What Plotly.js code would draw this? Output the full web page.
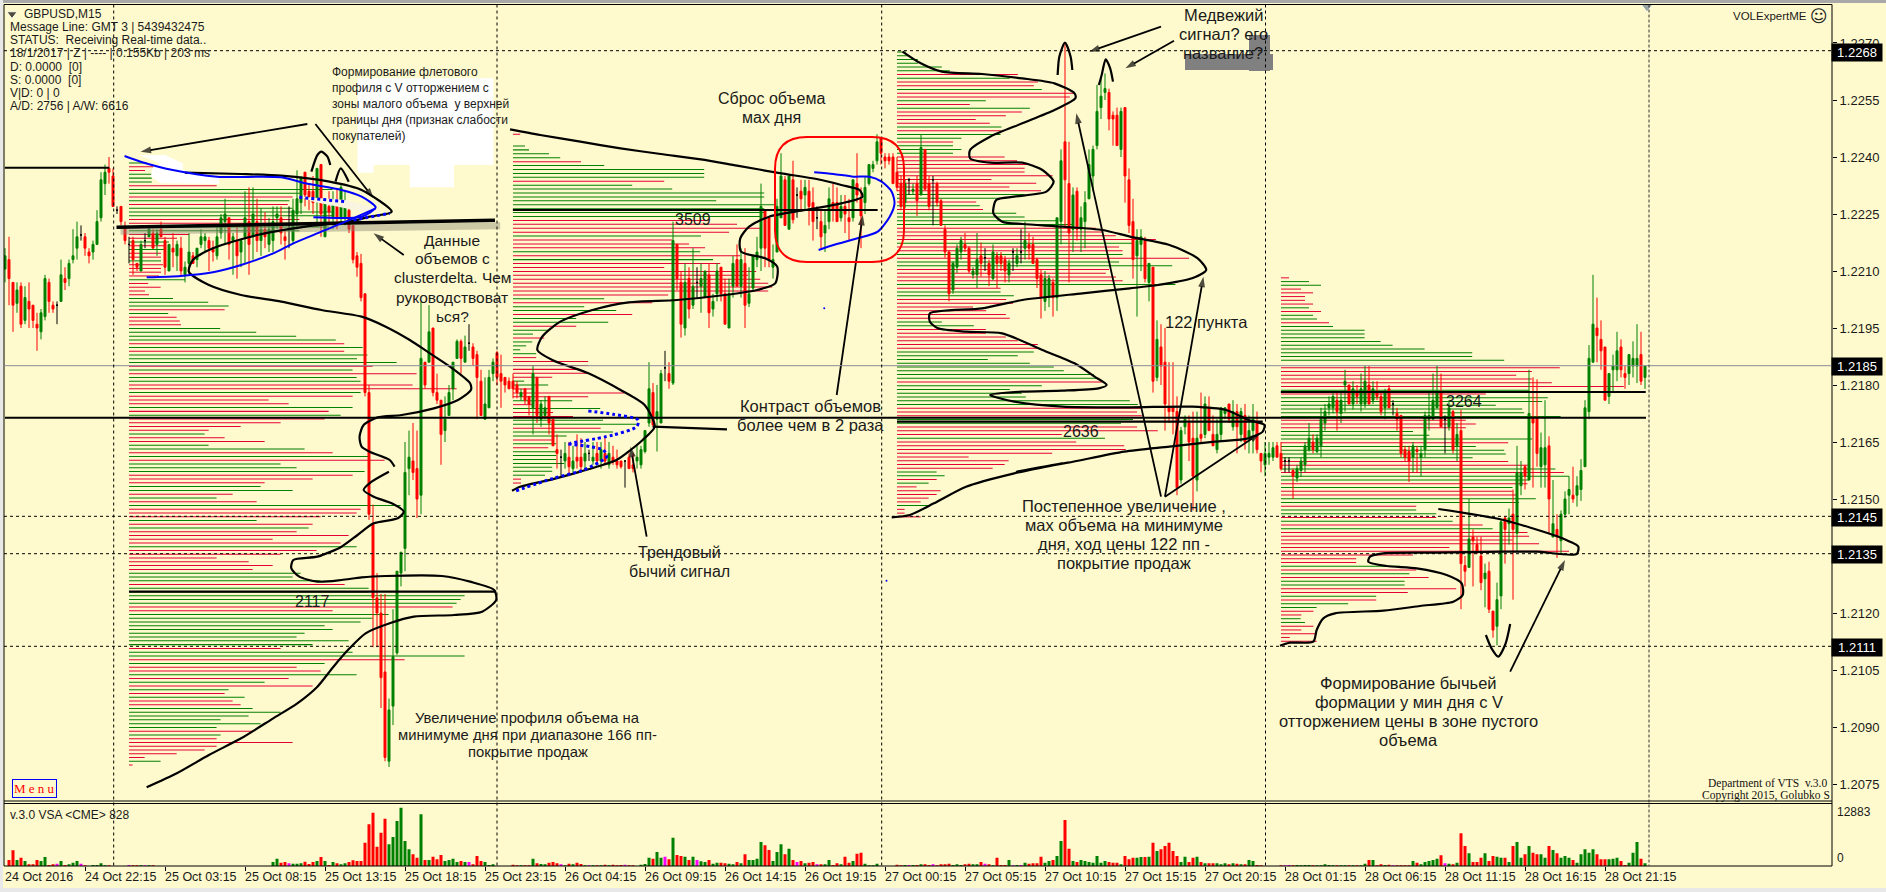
<!DOCTYPE html>
<html><head><meta charset="utf-8"><script src="https://cdn.plot.ly/plotly-3.0.0.min.js"></script>
<style>html,body{margin:0;padding:0;background:#fffacd}#c{width:1886px;height:892px}</style></head><body><div id="c"></div>
<script>
// Prices are quoted as pips above 1.2000; every candle row is [open, high, low, close]
const candles24Oct=[[210.5,216,207,214],[213,219,201,208],[207,207,194,201],[201.5,207,199,205],[206,207,195,196],[197,206,196,203],[202,207,195,200],[201,201,195,197],[196,199,189,195],[194,200,192,199],[198,209,197,208],[207,208,199,202],[201,202,199,200],[201,202,196,201],[202,213,202,209],[208,211,205,207],[208,213,206,212],[213,221,212,214],[216,223,213,219],[219.5,222,218,219.5],[219,220,214,216],[215,216,212,214],[215,218,213,217],[217,226,217,223],[224,236,223,234],[233,238,230,236],[237,240,233,236],[235,237,227,227]];
const candles25Oct=[[226,227,225,226],[227,227,222,223],[221.5,223,217,218],[217,219,212,217],[218,219,209,213],[212,212,210,211],[210,218,210,217],[218,220,216,218],[219,222,219,221],[220,221,216,216],[217,221,214,220],[221,223,219,219],[218,219,209,211],[210,217,210,217],[216,220,211,215],[214,218,210,217],[216,219,208.5,210],[209,212.5,207,211],[212,220,209,215],[214,215,212,212],[213,216,211,216],[217,221,216,219],[218,220,215,219],[218,219,210,216],[216,218,212.5,215],[214,222,213,219],[220,225,218.5,224],[223,229,217,225],[224,224,213,217],[218,220,209,219],[218,222,208,214],[215,218.5,211,218],[219,231,212,224],[223,232,209,217],[219,232,213,225],[223,229,215,218],[218,226.5,214,221],[221,225.5,216,219],[217,224,215,221],[218,227,215,223],[224,227,221,225],[224,227,217,220],[219,221,213,218],[222,227,216,222],[218,229,217,226],[225,236.5,221,229],[228,235,225,234.5],[236,236,227,230],[231,233,226,229.5],[231,235,225,228],[229,237,222,237],[238,238,219,225],[219,228,219,228],[227,231,222.5,225.5],[224,231,221,228],[228,231.5,221,224],[224,233,222,232],[224,231,222,228],[226,228,220,221],[222,222,212,213],[214,215,208.5,211],[212,214.5,202,203],
[204,204,177,178],[178,180,144.5,146],[143.5,148.5,111,124],[124,130.5,111,120],[120,125,95,103],[104.5,125,81,82],[81,97.5,79.5,94.5],[95.5,121,90.5,108.5],[109.5,131,109,131],[130.5,136,127,136],[137,165,131,157],[158,168,151,161],[160,170,155,157],[158,168,145,150],[151,202,146,187],[186,186,179,180],[186,201,186,194],[195,195,177,178],[178,183,175,176],[176,176,159,167],[168,177,165,171],[172,180,172,178],[179,186,176,186],[187,192,187,191.5],[191.5,192,183,187],[186,193,186,190],[191,196,189,191],[190,191,185,187],[188,189,171,182],[181,184,172,172],[171,182,171,175],[174,184,174,182],[183,187,181,186]];
const candles26Oct=[[188.5,189,180,182],[183,188,174,181],[182,182,178,180],[181,182,179,179],[181,183,176.5,179],[180,181,176.5,178],[177,179,176,178],[179,179,175,176],[177,177,172,175],[174,185,167,183],[182,182,170,172],[171,176,169,175],[172,177,171,174],[177,177,167,170],[171,171,164,164],[163,167,158,162],[161,163,156,161],[160,165,158,162],[161,165,156,158.5],[158,164,157,160],[161,167,158,160],[161,166,157,158.5],[160,165,158,162],[162,163,160,162],[160,165,159,161],[162,165,159,160],[160,165,158,163],[162,166,159,160],[159,165,158,162],[161,164,159,160],[160,163,158,159],[160,160,158,158.5],[160,160,153,160],[161,162,158,158],[159,162,157,158],[160,164,158,161],[159,164,158,163],[162.5,168,162,168],[170,186,169,179],[178,180.5,169,169.5],[171,180,162.5,173],[170,184,170,183],[184.5,189,181,184.5],[183,186,179,181],[180.5,223,180,218],[217,217,205,208],[207,210,192.5,196],[195,212,193,207],[208,211,197.5,200],[201,216,200,206],[207,211,203,207],[206,212,199,208],[203,210,203,210],[209,212,195,199],[200,204,198,202],[204,212,202,210],[211,211,202,204],[204,208,196,196],[195,208,195,204],[206,214,203,212],[213,217,206,206],[206,216,203,213],[212,216,195,201],[201.5,211,200.5,204],[205.5,214,205,214],[213,219,211,215],[216,233,210,227],[226,226,211,216],[224,224,211,213],[211,217,208,213],[215,229,215,227],[224,241,224,235],[234,235,222,222],[221,235,221,235],[234,239,222.5,223.5],[230,232,224,230],[231,234,226,229],[230,234,226,232],[231,234,222,227],[228,232,218,223],[224,227,221,224],[223,226,216,219],[220,226,215,222],[223,232,221,229],[228,233,223,226],[228,232,223,223],[224,230,223,227],[227,230,220,225],[224,229,218,223],[224,234,223,234],[233,241,228,230],[229,232,216,224.5],[228,235,225,232],[233,238,232.5,238],[237,239,236,238],[239,246,238,244],[245,245,238,241]];
const candles27Oct=[[240,241,237,239],[240,241,238,239],[240,241,233,233],[236,240,231,232],[233,235,226,227],[228,234,226.5,233],[234,234.5,230,234],[231,233,230,231.5],[233,235,224.5,228.5],[230,246,230,242.5],[242,242,231.5,231.5],[233,235,226,227],[234,235,222,234],[233,233.5,227,228],[228.5,229,222,222],[221,222,213.5,215],[215,215.5,202,204],[205,212.5,204,212],[211,217,209.5,216],[215,219,213,218],[217,220,215,216],[216,216.5,209.5,210],[209,211,208,210],[209,220,205.5,213],[214,217.5,208.5,212],[213.5,216,210,213.5],[212,213,206,209],[208,217,207.5,215],[214,215,205.5,212],[214,215,210,212],[213,214,207,210],[209,213,207,212],[215,216,210,215],[212,216,211,214],[215,221,212,215],[216,223,213,218],[217,220,213,216],[217,219,212,212],[213,213.5,205.5,208],[209,210.5,197.5,203],[202,210,199.5,208],[203,209,200.5,208],[207,208,198,203],[203,224,199.5,224],[223,242,217,239],[244,270,221.5,234],[233,244,207,220],[221,232,215,230],[231,232,218,221],[221,227,215,224],[223,231,216,228],[229,242,229,238],[235,243,231,242],[243,259,242,252],[253,261,250,256],[257,262,255,258],[257,258,247,250],[251,252,243,250],[251,253,243,243],[242,253,240,252],[253,253,228,235],[234,237,220,222],[223,229,208,213],[214,221,198,218],[217,221,210,219],[218,219,207,208],[207,212,202,212],[211,211,178,181],[182,197,181,192],[190,196,180,185],[186,195,168,175],[174,186,170,173],[174,186,167,173],[173,177,151,153],[155,169,154,168],[169,172,167,171],[170,172,160,165],[166,173,147,156],[155,173,152,166],[167,178,165,166],[167,177,166,175],[174,177,168,168],[167,172,164,164],[163,171,162,167],[167,174,165,174],[172.5,174,171,174],[175,175,170,171],[169,176,168,173],[173,175,162,169],[167,174,165,173],[172,175,163,165],[166,172,162,168],[168,175,162,171],[170,173,162,163],[162,162,157,160],[159,165,156,162],[161,165,159,162]];
const candles28Oct=[[161,165,160,163.5],[164,165,161,161],[162,165,157.5,158],[160,161,157,160],[160,161,157,160],[157.5,158,150,156],[155.5,159,154.5,158],[157.5,161,155.8,160],[159,165,157,164],[163,170,162.5,166],[165,167,162,163],[162.5,167,162,166],[164,174,161,171],[170,175,168,173],[174,177,172,175],[174,178,172.5,177],[176,178,168,173],[172.5,178,170,176],[180,184,173,181],[180,180,175,175],[175,181,173.5,179],[178,180,175,177],[175,183,173,179],[175,185,174,181],[180,185,175,175],[176,181,175,179],[178,181,176,177],[177,178,172,173],[174,179,171,178],[179,180,174,174],[175,176,172,175],[172.5,174,168,171],[172,172,161,162],[163,164,160,161],[162.5,164,154.5,160],[161,165,157,164],[163,164,157,162.5],[161,164,156,162],[163,173,161,172],[171,178,168,172],[171,183,171,176],[174,185,174,178],[178,183,169,169],[171,172,162,171],[169,176,168,174],[173,173.5,162,163],[164,170,160,167],[168,173.5,121,133],[132.5,135,127,131],[132,150,132,139.5],[140,142,127,139],[138,140,135.5,136],[135,140,126,128],[129,133,121.5,130.5],[131,133.5,120,121],[120.5,120.5,113.5,115.5],[116.5,128,111.5,123.5],[124.5,144.5,121,144],[145,145.5,133,142],[143.5,147.5,138,145],[146,152.5,123.5,142],[141,164,136,157],[153.5,160,151,157],[158.5,159,152.5,156],[155,184,155,172.5],[171.5,182,153,170],[171.5,181.5,158.5,162],[158.5,167.5,153,163.5],[159,176,153,163.5],[164,166.5,141,150],[140,155,140,143.5],[142,146,134.5,140],[139,147,135.5,146],[146,152,145,150],[151,156,146,152.5],[151,158.5,149,150],[151,156,148,153.5],[152.5,160.5,149.5,157.5],[158.5,176,158.5,174],[173,190.5,171,187],[186,209,186,196],[195,203,186,193],[192,197,184,189],[190,190,176,176],[177,183,175,183],[184,188,178,185],[184,194,181,189],[190,192,182,184],[183,185,179,182],[183,188,180,188],[185,191.5,182,187],[185,196,180.5,187],[188,194,180,181],[182,185,179,185]];

// Tick volume, in units of 72 ticks, bar by bar
const volumesA=[0,18,47,18,25,15,5,5,18,15,27,3,5,7,15,3,5,10,15,7,2,0,3,3,8,2,2,0,0,0,0,3,2,2,2,2,2,2];
const volumesB=[0,0,0,0,0,0,0,0,0,0,0,0,0,0,0,0,0,0,0,0,0,0,0,0,0,0,0,0,0,12,22,10,12,8,7,7,8,13,6,12,15,27,15,3,12,8,5,8,12,17,15,15,70,125,160,58,100,142,65,87,135,175,75,50,35,25,155,18,18,28,20,33,15,18,22,12,15,12,12,5,30,15,12,3,5,0,0,0,0];
const volumesC=[4,2,2,2,2,22,8,6,5,10,12,8,5,2,7,5,10,6,2,2,2,2,2,4,2,4,2,3,4,2,2,0,4,6,25,22,42,25,28,20,85,33,30,28,18,28,18,14,12,18,7,10,10,8,7,5,12,8,35,18,18,22,72,62,48,15,42,65,35,52,18,12,15,8,10,12,5,5,5,18,3,8,5,28,10,15,37,40,7,2,2,7,0,0,0,0];
const volumesD=[4,2,3,3,3,3,5,5,3,5,2,5,5,7,3,5,3,5,7,5,5,12,7,5,2,25,3,3,18,2,3,3,10,7,8,8,28,10,15,18,30,75,138,52,15,12,18,15,12,10,30,10,15,12,10,10,5,30,20,25,25,27,27,28,70,45,50,60,70,45,30,12,28,12,25,28,12,8,8,8,8,5,8,5,8,7,5,5,18,15,3,2,0,0,0,0];
const volumesE=[2,2,3,2,3,2,3,3,2,2,2,5,3,2,2,2,2,2,2,2,2,7,18,18,2,5,3,4,2,2,2,2,2,15,10,5,12,15,18,22,32,8,7,5,10,98,60,38,12,12,25,38,15,30,28,25,25,12,60,72,25,35,60,40,35,35,25,60,48,38,25,30,25,18,10,35,50,40,50,35,20,20,20,22,25,15,3,10,40,72,22,8];

// Volume profiles per session, one level per pip from top to bottom: + buy-side (green), - sell-side (red)
const profileDay1=[44,-60,-40,60,57,57,-219,509,430,-409,401,-397,409,509,509,-426,-438,500,426,-150,-120,100,-90,90,-80,-80,80,-85,-80,-80,-75,140,-48,-79,-40,-50,110,198,249,-239,98,-119,-127,-130,228,318,418,517,-538,584,-538,596,570,669,-609,559,-719,569,579,-709,-819,579,-559,-349,-399,559,-499,529,-489,-379,-279,-199,189,-239,-339,199,439,-509,599,-639,379,419,589,-559,-459,-339,329,409,-259,219,-319,679,-579,-569,-479,319,-459,449,-419,-549,-359,-529,569,-469,-379,-219,-299,-359,-309,429,409,479,-539,599,599,839,829,819,-809,-509,649,609,579,489,509,439,419,549,459,-379,559,839,-689,489,-419,-479,569,-399,339,-459,249,-239,289,-259,-279,309,379,299,229,329,219,-309,229,-219,-409,-219,-189,-119,-39,79,-9];
const profileDay2=[-18,0,0,30,40,90,118,-170,228,478,478,478,-378,298,398,628,628,508,658,628,628,618,-488,-560,-618,-540,470,-398,-440,-480,468,-568,500,-518,-378,-608,-588,-618,-638,-648,-638,-388,228,-348,178,258,-298,158,238,-158,88,50,-78,48,33,18,58,-58,-188,-188,-168,-188,-98,28,88,-48,-278,-188,148,-48,218,-100,-150,225,308,-219,250,134,-98,108,-88,108,108,108,128,98,98,80,-20,-20];
const profileDay3=[22,32,52,52,112,132,-302,282,-352,-342,362,-442,-432,222,-182,332,-312,-272,-197,-232,261,-259,259,161,-140,140,161,140,-269,-300,-328,-319,-319,-389,-236,-348,-281,-360,319,273,-198,207,-215,298,319,398,439,-497,-514,-547,-647,588,-555,-564,564,-730,555,688,-530,-522,-547,-564,696,-259,259,292,-273,-290,-190,-223,-272,-282,112,192,-222,-222,-272,-302,-352,-352,342,302,227,332,392,417,492,502,-512,362,282,312,322,582,602,-610,-600,-612,590,560,-600,-652,-412,520,-448,-568,-572,-388,-179,-279,-269,-239,99,119,-99,79,-49,-109,-99,-79,-59,82,-19,-19,-59];
const profileDay4=[-20,70,100,-50,-80,-60,-60,-80,70,-100,80,90,-120,130,209,209,209,249,279,359,478,478,558,0,-697,-627,-588,-627,-677,-857,620,-512,667,653,537,603,608,699,-462,-487,-462,330,371,628,-568,487,558,562,479,-568,-620,686,-707,720,620,-616,579,-579,-591,637,595,-338,338,388,-388,429,-504,529,-616,-620,-579,-645,-421,-720,-330,-188,-188,298,-338,321,-369,309,309,-438,-317,238,-238,168,89,-81,-51,49,60,-81,-51,-89,-22,-89,-9];
const profileTops=[238.4,246,267.6,208.2];
const profileBottoms=[80,154.2,145.3,111.6];
const profileStarts=[31,127,223,319];

const priceTicks=[1.2270,1.2255,1.2240,1.2225,1.2210,1.2195,1.2180,1.2165,1.2150,1.2135,1.2120,1.2105,1.2090,1.2075];
const timeTickIndex=[20,40,60,80,100,120,140,160,180,200,220,240,260,280,300,320,340,360,380,400];
const timeTickLabels=["24 Oct 22:15","25 Oct 03:15","25 Oct 08:15","25 Oct 13:15","25 Oct 18:15","25 Oct 23:15","26 Oct 04:15","26 Oct 09:15","26 Oct 14:15","26 Oct 19:15","27 Oct 00:15","27 Oct 05:15","27 Oct 10:15","27 Oct 15:15","27 Oct 20:15","28 Oct 01:15","28 Oct 06:15","28 Oct 11:15","28 Oct 16:15","28 Oct 21:15"];

const candles=[].concat(candles24Oct,candles25Oct,candles26Oct,candles27Oct,candles28Oct);
const volumes=[].concat(volumesA,volumesB,volumesC,volumesD,volumesE);
const P=v=>1.2+v/10000;
const W=1886,H=892;
const RED='#ff0000',GREEN='#008000',CREAM='#fffacd';

// ---- candlesticks
const move=[],doji=[];
candles.forEach((r,i)=>{(r[0]===r[3]?doji:move).push({i,r});});
const cs=(arr,up,dn)=>({type:'candlestick',xaxis:'x',yaxis:'y',x:arr.map(d=>d.i),open:arr.map(d=>P(d.r[0])),high:arr.map(d=>P(d.r[1])),low:arr.map(d=>P(d.r[2])),close:arr.map(d=>P(d.r[3])),
  increasing:{line:{color:up,width:1},fillcolor:up},decreasing:{line:{color:dn,width:1},fillcolor:dn},whiskerwidth:0,width:0.5,hoverinfo:'skip',showlegend:false});

// ---- profiles
const profX=[],profY=[],profB=[],profC=[];
[profileDay1,profileDay2,profileDay3,profileDay4].forEach((p,d)=>{
  const step=(profileTops[d]-profileBottoms[d])/(p.length-1);
  p.forEach((v,k)=>{if(!v)return;profX.push(Math.abs(v)/10);profY.push(P(profileTops[d]-k*step));profB.push(profileStarts[d]);profC.push(v>0?'rgba(0,128,0,0.995)':'rgba(230,0,51,0.995)');});
});
const profile={type:'bar',orientation:'h',xaxis:'x',yaxis:'y',x:profX,y:profY,base:profB,width:0.0000264,marker:{color:profC,line:{width:0}},hoverinfo:'skip',showlegend:false};

// ---- volume
const volColor=volumes.map((v,i)=>{const r=candles[i]||[0,0,0,0];return r[0]===r[3]?'#ff00ff':(r[3]>r[0]?GREEN:RED);});
const volume={type:'bar',xaxis:'x2',yaxis:'y2',x:volumes.map((v,i)=>i),y:volumes.map(v=>v*72),width:0.75,marker:{color:volColor,line:{width:0}},hoverinfo:'skip',showlegend:false};

// ---- hand drawings on the screenshot
const Z={a:[0,0,2.489],b:[0,440,2.489],c:[500,0,2.489],d:[500,440,2.489],e:[1000,0,1.77],f:[1000,440,1.77],h:[350,220,3],k:[1060,30,3],m:[1270,270,3]};
const tr=(z,pts)=>pts.map(p=>[Z[z][0]+p[0]/Z[z][2],Z[z][1]+p[1]/3]);
const ov=(pts,o)=>Object.assign({type:'scatter',xaxis:'x3',yaxis:'y3',x:pts.map(p=>p[0]),y:pts.map(p=>p[1]),mode:'lines',hoverinfo:'skip',showlegend:false},o);
const curve=(pts,c,w,dash)=>ov(pts,{line:{color:c||'#000',width:w||2.2,shape:'spline',smoothing:0.7,dash:dash||'solid'}});
const poly=(pts,c)=>ov(pts.concat([pts[0]]),{fill:'toself',fillcolor:c,line:{width:0,color:c}});
const straight=(pts,c,w,dash)=>ov(pts,{line:{color:c||'#000',width:w||2,dash:dash||'solid'}});
const arrow=(pts,w)=>ov(pts,{mode:'lines+markers',line:{color:'#000',width:w||1.6},marker:{color:'#000',size:[3,11],symbol:['circle','arrow'],angleref:'previous',line:{width:0}}});

const blotches=[
 poly(tr('a',[[890,235],[1228,235],[1228,495],[1130,495],[1130,562],[1020,562],[1020,495],[930,495],[930,518],[890,518]]),'#ffffff'),
 poly(tr('a',[[345,465],[410,465],[455,490],[455,510],[545,530],[545,552],[400,550],[375,530],[380,505],[400,490]]),'#ffffff'),
 poly(tr('a',[[750,590],[860,600],[935,625],[920,640],[860,625],[780,605]]),'#f8f4e0'),
];
const pocShadow=straight(tr('a',[[300,694],[1245,677]]),'rgba(140,140,120,0.45)',7);
const pocLines=[
 straight(tr('a',[[12,503],[272,503]]),'#000',2),
 straight(tr('a',[[290,682],[1232,661]]),'#000',3.5),
 straight([[5,417.7],[1646,417.7]],'#000',2),
 straight(tr('b',[[321,455],[1235,455]]),'#000',2.2),
 straight(tr('c',[[32,630],[940,630]]),'#000',2.2),
 straight(tr('c',[[988,1265],[1568,1265]]).concat(tr('e',[[230,1265],[465,1265]])),'#000',2.2),
 straight(tr('e',[[497,1176],[1143,1176]]),'#000',2.2),
];
const blackCurves=[
 tr('a',[[460,518],[600,522],[700,527],[820,545],[900,570],[975,635],[920,650],[870,665],[760,680],[640,705],[530,745],[480,780],[470,815],[520,855],[600,885],[700,905],[800,930],[900,950],[960,980],[1020,1020],[1070,1060],[1120,1100],[1170,1150],[1172,1170],[1140,1200],[1080,1225],[1000,1245],[940,1252],[905,1275],[895,1310],[900,1340]]).concat(tr('b',[[920,35],[970,60],[982,80]])),
 tr('b',[[968,95],[925,125],[905,150],[930,170],[975,190],[1005,215],[990,235],[930,250],[890,285],[850,320],[790,350],[730,360],[725,385],[745,410],[790,425],[850,420],[900,412],[960,408],[1100,408],[1170,425],[1230,450],[1235,480],[1200,515],[1130,525],[1030,530],[970,550],[910,580],[870,625],[830,680],[790,740],[740,790],[680,835],[600,895],[520,945],[440,1000],[365,1042]]),
 tr('c',[[25,388],[100,405],[200,425],[300,445],[400,462],[500,478],[590,497],[700,520],[800,540],[850,555],[895,570],[902,590],[850,610],[760,630],[670,650],[620,680],[598,715],[600,755],[660,775],[690,800],[685,850],[640,870],[560,885],[440,900],[320,907],[230,930],[150,965],[105,1010],[93,1050],[130,1080],[220,1120],[300,1170],[360,1215],[385,1280],[355,1320]]).concat(tr('d',[[325,30],[290,60],[200,95],[130,118],[50,140],[30,152]])),
 tr('c',[[1002,155],[1040,185],[1100,215],[1200,222],[1300,235],[1380,250],[1430,280],[1432,295],[1380,330],[1300,370],[1220,410],[1170,450],[1170,475],[1220,488],[1300,488],[1350,510],[1378,545],[1360,575],[1280,590],[1235,600],[1228,640],[1250,665],[1300,672],[1400,680],[1500,690],[1568,710]]).concat(tr('e',[[300,735],[350,775],[365,810],[340,835],[280,855],[230,865]]),tr('c',[[1450,880],[1300,900],[1200,925],[1070,940],[1070,965],[1090,985],[1160,995],[1250,1000],[1350,1050],[1430,1090],[1480,1130],[1510,1155],[1490,1165],[1400,1172],[1300,1175],[1220,1185],[1280,1205],[1400,1220],[1568,1222]]),tr('e',[[340,1220],[400,1230],[440,1260],[468,1275],[465,1295],[440,1315],[380,1325],[300,1340]]),tr('f',[[220,35],[120,68],[30,95]]),tr('d',[[1400,70],[1280,100],[1160,140],[1080,190],[1020,225],[975,232]])),
 tr('m',[[30,1127],[60,1118],[130,1115],[140,1080],[160,1045],[195,1030],[340,1022],[450,1008],[550,995],[578,975],[575,940],[530,915],[440,895],[350,888],[295,875],[300,860],[340,850],[500,848],[700,845],[800,845],[920,852],[925,830],[900,815],[850,795],[700,750],[505,717]]),
 tr('a',[[775,515],[790,465],[800,455],[815,470],[822,495]]),
 tr('a',[[835,545],[848,505],[868,545]]),
 tr('e',[[102,225],[105,170],[115,128],[125,170],[128,210]]),
 tr('e',[[175,255],[180,225],[187,178],[195,205],[200,245]]),
 tr('f',[[860,585],[870,625],[882,650],[895,610],[903,552]]),
 tr('c',[[565,1288],[380,1280]]),
].map(p=>curve(p));
const blueCurves=[
 curve(tr('a',[[310,468],[350,485],[430,510],[540,530],[700,532],[760,550],[850,570],[900,590],[935,622],[900,650],[780,652]]),'#0000ff',2),
 curve(tr('a',[[365,832],[450,828],[530,817],[600,795],[680,760],[730,730],[800,695],[860,665],[935,625]]),'#0000ff',2),
 curve(tr('c',[[782,517],[830,522],[880,530],[920,530],[950,545],[975,575],[982,610],[970,650],[940,695],[890,715],[830,735],[793,750]]),'#0000ff',2),
 curve(tr('a',[[745,592],[860,605]]),'#0000ff',3,'dot'),
 curve(tr('a',[[880,660],[970,640]]),'#0000ff',3,'dot'),
 curve(tr('h',[[715,573],[790,583],[865,600],[860,620],[790,645],[660,670]]),'#0000ff',3,'dot'),
 curve(tr('h',[[655,672],[720,680],[760,690],[770,710],[700,750],[610,775],[490,815]]),'#0000ff',3,'dot'),
];
const arrows=[
 arrow(tr('a',[[765,372],[350,455]]),1.8),
 arrow(tr('a',[[785,372],[930,595]]),1.8),
 arrow(tr('a',[[1005,765],[930,700]]),1.8),
 arrow(tr('c',[[838,1185],[903,645]]),1.8),
 arrow(tr('d',[[365,290],[325,20]]),1.8),
 arrow(tr('e',[[285,80],[158,155]]),1.8),
 arrow(tr('e',[[308,122],[222,205]]),1.8),
 arrow(tr('f',[[285,170]]).concat(tr('e',[[135,340]])),1.8),
 arrow(tr('f',[[292,170]]).concat(tr('e',[[360,830]])),1.8),
 arrow(tr('k',[[315,1400],[600,1210]]),1.8),
 arrow(tr('f',[[903,695],[1000,360]]),1.8),
];
const marks=ov([[12,14],[1647,7]],{mode:'markers',marker:{symbol:'triangle-down',size:[9,10],color:['#000','#708090']}});
const specks=ov(tr('c',[[807,925]]).concat(tr('d',[[962,422]])),{mode:'markers',marker:{size:2,color:'#0000ff'}});

// ---- guide lines
const sessionLines=[113.7,497,881.7,1265.5];
const shapes=[];
const lineS=(x0,y0,x1,y1,c,w,dash)=>shapes.push({type:'line',xref:'x3',yref:'y3',x0,y0,x1,y1,line:{color:c,width:w,dash:dash||'solid'},layer:'above'});
// window chrome
shapes.push({type:'rect',xref:'x3',yref:'y3',x0:0,y0:0,x1:W,y1:3,fillcolor:'#a8a8a8',line:{width:0},layer:'above'});
shapes.push({type:'rect',xref:'x3',yref:'y3',x0:0,y0:0,x1:3,y1:H,fillcolor:'#e8e8e8',line:{width:0},layer:'above'});
shapes.push({type:'rect',xref:'x3',yref:'y3',x0:0,y0:888,x1:W,y1:H,fillcolor:'#e8e8e8',line:{width:0},layer:'above'});
lineS(4,4.5,1832,4.5,'#000',1);
lineS(4,4.5,4,866,'#000',1);
lineS(1832,4.5,1832,866,'#000',1);
lineS(4,801,1832,801,'#000',1);
lineS(4,803.5,1832,803.5,'#000',1);
lineS(4,866,1832,866,'#000',1);
[50.7,516.3,553.7,646.3].forEach(y=>lineS(4,y,1832,y,'#000',1,'3px,3px'));
lineS(4,365.7,1832,365.7,'#8a8a9a',1);
sessionLines.forEach(x=>lineS(x,4.5,x,866,'#000',1,'3px,3px'));
lineS(1649,4.5,1649,866,'#333',1,'3px,2px');
// red box
const rb=[775,137,904,262,32];
shapes.push({type:'path',xref:'x3',yref:'y3',line:{color:'#ff0000',width:2},layer:'above',
 path:`M ${rb[0]+rb[4]} ${rb[1]} L ${rb[2]-rb[4]} ${rb[1]} Q ${rb[2]} ${rb[1]} ${rb[2]} ${rb[1]+rb[4]} L ${rb[2]} ${rb[3]-rb[4]} Q ${rb[2]} ${rb[3]} ${rb[2]-rb[4]} ${rb[3]} L ${rb[0]+rb[4]} ${rb[3]} Q ${rb[0]} ${rb[3]} ${rb[0]} ${rb[3]-rb[4]} L ${rb[0]} ${rb[1]+rb[4]} Q ${rb[0]} ${rb[1]} ${rb[0]+rb[4]} ${rb[1]} Z`});

// ---- texts
const SANS='"Liberation Sans",Arial,sans-serif',SERIF='"Liberation Serif",serif';
const ann=[];
const T=(x,y,text,size,anchor,o)=>ann.push(Object.assign({xref:'x3',yref:'y3',x,y,text,showarrow:false,xanchor:anchor||'center',yanchor:'middle',font:{family:SANS,size:size||15,color:'#1a1a1a'},borderpad:0},o||{}));
const infoLines=["Message Line: GMT 3 | 5439432475","STATUS:  Receiving Real-time data..","18/1/2017 | Z | ---- | 0.155Kb | 203 ms","D: 0.0000  [0]","S: 0.0000  [0]","V|D: 0 | 0","A/D: 2756 | A/W: 6616"];
const infoY=[27,40,53,67,80,93,106];
T(23,14,"GBPUSD,M15",12,'left');
infoLines.forEach((t,i)=>T(9,infoY[i],t,12,'left'));
["Формирование флетового","профиля с V отторжением с","зоны малого объема  у верхней","границы дня (признак слабости","покупателей)"].forEach((t,i)=>T(331,72+16*i,t,12,'left'));
["Данные","объемов с","clusterdelta. Чем","руководствоват","ься?"].forEach((t,i)=>T(452,[240,258,277,297,316][i],t,15.5));
["Сброс объема","мах дня"].forEach((t,i)=>T(771,98+19*i,t,16));
["Контраст объемов","более чем в 2 раза"].forEach((t,i)=>T(810,406+18.5*i,t,16.5));
["Трендовый","бычий сигнал"].forEach((t,i)=>T(679,552+19*i,t,16));
["Постепенное увеличение ,","мах объема на минимуме","дня, ход цены 122 пп -","покрытие продаж"].forEach((t,i)=>T(1124,506+19*i,t,16.5));
T(1206,322,"122 пункта",16.5);
["Медвежий","сигнал? его","название?"].forEach((t,i)=>T(1223,15+19*i,t,16.5));
["Увеличение профиля объема на","минимуме дня при диапазоне 166 пп-","покрытие продаж"].forEach((t,i)=>T(527.5,718+17*i,t,14.8));
["Формирование бычьей","формации у мин дня с V","отторжением цены в зоне пустого","объема"].forEach((t,i)=>T(1408.5,683+19*i,t,16.5));
[["2117",312,601],["3509",693,219],["2636",1080.5,431.7],["3264",1464,401.7]].forEach(a=>T(a[1],a[2],a[0],16));
T(1808,16,"VOLExpertME",11.5,'right');
T(1819,16,"☺",17,'center',{font:{family:'"DejaVu Sans"',size:17,color:'#222'}});
T(1828,783,"Department of VTS  v.3.0",11.5,'right',{font:{family:SERIF,size:11.5,color:'#111'}});
T(1831,795,"Copyright 2015, Golubko S",11.5,'right',{font:{family:SERIF,size:11.5,color:'#111'}});
T(9,815,"v.3.0 VSA <CME> 828",12,'left');
T(1836,812,"12883",12,'left');
T(1836,858,"0",12,'left');
T(34.5,788.5,"M e n u",13,'center',{font:{family:SERIF,size:13,color:'#ff0000'},bordercolor:'#0000ff',borderwidth:1,borderpad:1,bgcolor:CREAM});
[["1.2268",52],["1.2185",366],["1.2145",517],["1.2135",554.5],["1.2111",647]].forEach(a=>T(1857,a[1],a[0],13,'center',{font:{family:SANS,size:13,color:'#ffffff'},bgcolor:'#000000',borderpad:2,width:46,height:13}));
T(4,877,"24 Oct 2016",12.5,'left');
timeTickIndex.forEach((k,i)=>ann.push({xref:'x2',yref:'y3',x:k,y:877,text:timeTickLabels[i],showarrow:false,xanchor:'left',yanchor:'middle',xshift:-1,font:{family:SANS,size:12.5,color:'#1a1a1a'},borderpad:0}));

// gray smear behind the question text
const gray=[
 poly([[1185,54],[1273,54],[1273,70],[1185,70]],'#808080'),
 poly([[1249,35],[1270,35],[1270,71],[1249,71]],'#808080'),
];

const NONE='rgba(0,0,0,0)';
const layout={width:W,height:H,margin:{l:0,r:0,t:0,b:0},paper_bgcolor:CREAM,plot_bgcolor:NONE,showlegend:false,barmode:'overlay',dragmode:false,
 xaxis:{domain:[4/W,1832/W],range:[-0.25,456.75],anchor:'y',visible:false,fixedrange:true,rangeslider:{visible:false}},
 yaxis:{domain:[1-801/H,1-4.5/H],range:[1.207053,1.228013],anchor:'x',side:'right',tickmode:'array',tickvals:priceTicks,tickformat:'.4f',ticks:'outside',ticklen:4,tickcolor:'#000',showgrid:false,zeroline:false,showline:false,tickfont:{family:SANS,size:13,color:'#1a1a1a'},fixedrange:true},
 xaxis2:{domain:[4/W,1832/W],range:[-0.25,456.75],anchor:'y2',tickmode:'array',tickvals:timeTickIndex,showticklabels:false,ticks:'outside',ticklen:4,tickcolor:'#000',showgrid:false,zeroline:false,fixedrange:true},
 yaxis2:{domain:[1-866/H,1-803.5/H],range:[0,13500],anchor:'x2',visible:false,fixedrange:true},
 xaxis3:{domain:[0,1],range:[0,W],anchor:'y3',visible:false,fixedrange:true},
 yaxis3:{domain:[0,1],range:[H,0],anchor:'x3',visible:false,fixedrange:true},
 shapes,annotations:ann};

const traces=[profile,cs(move,GREEN,RED),cs(doji,'#000','#000'),volume].concat(blotches,gray,[pocShadow],pocLines,blackCurves,blueCurves,arrows,[marks,specks]);
Plotly.newPlot('c',traces,layout,{displayModeBar:false,staticPlot:true});
</script></body></html>
